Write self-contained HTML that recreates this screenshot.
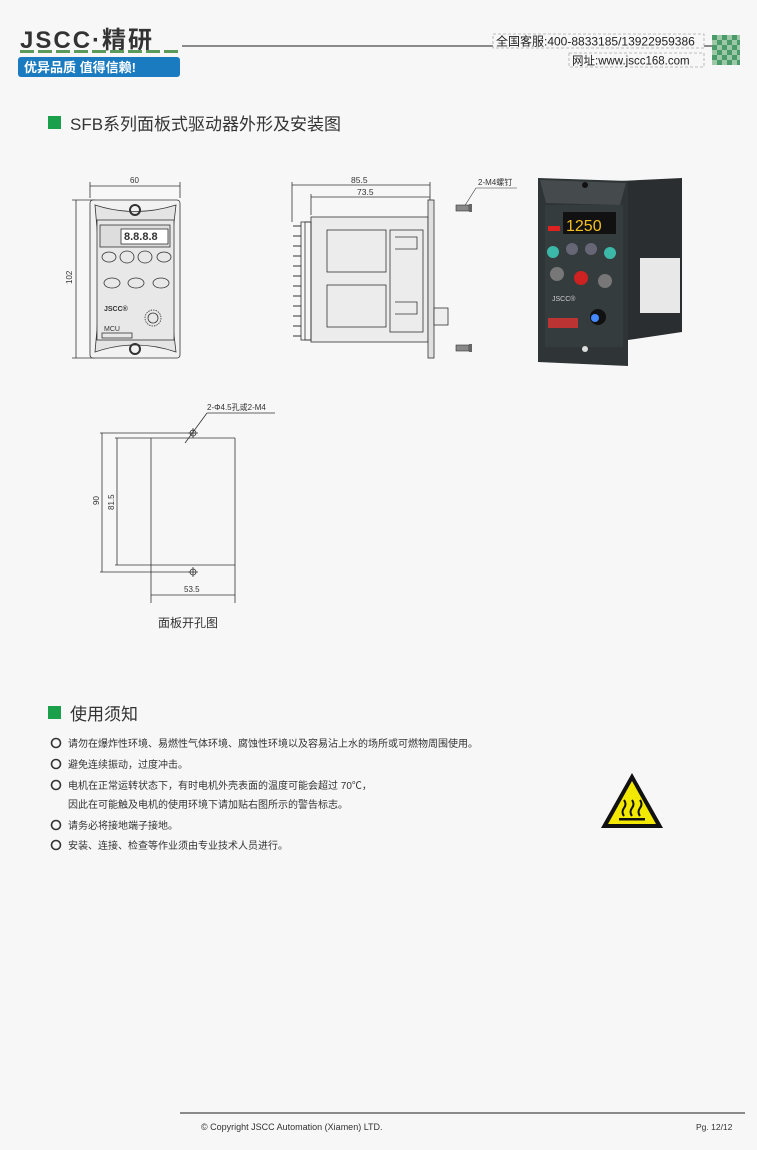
<!DOCTYPE html>
<html><head><meta charset="utf-8"><style>
body{margin:0;background:#f7f7f7;}
svg{display:block}
text{font-family:"Liberation Sans","Noto Sans CJK SC",sans-serif;}
</style></head><body>
<svg width="757" height="1150" viewBox="0 0 757 1150" xmlns="http://www.w3.org/2000/svg">
<rect width="757" height="1150" fill="#f7f7f7"/>
<!-- header -->
<text x="20" y="48" font-size="24" font-weight="bold" fill="#333" letter-spacing="2">JSCC·精研</text>
<line x1="20" y1="51.5" x2="178" y2="51.5" stroke="#5a9a5a" stroke-width="3" stroke-dasharray="14,4"/>
<rect x="18" y="57" width="162" height="20" rx="3" fill="#1a7bc0"/>
<text x="24" y="72" font-size="13" font-weight="bold" fill="#fff">优异品质 值得信赖!</text>
<line x1="182" y1="46" x2="712" y2="46" stroke="#666" stroke-width="1.5"/>
<rect x="493" y="34" width="211" height="14" fill="#f7f7f7" stroke="#aaa" stroke-dasharray="3,2" stroke-width="0.8"/>
<text x="496" y="45.5" font-size="12" fill="#222">全国客服:400-8833185/13922959386</text>
<rect x="569" y="53" width="135" height="14" fill="#f7f7f7" stroke="#aaa" stroke-dasharray="3,2" stroke-width="0.8"/>
<text x="572" y="64.5" font-size="11.5" fill="#222" font-family="Liberation Mono,monospace">网址:www.jscc168.com</text>
<g fill="#4a9a6a">
<rect x="712" y="35" width="28" height="30" fill="#9cc8a8"/>
<rect x="712" y="35" width="5" height="5"/><rect x="722" y="35" width="5" height="5"/><rect x="732" y="35" width="5" height="5"/>
<rect x="717" y="40" width="5" height="5"/><rect x="727" y="40" width="5" height="5"/><rect x="737" y="40" width="3" height="5"/>
<rect x="712" y="45" width="5" height="5"/><rect x="722" y="45" width="5" height="5"/><rect x="732" y="45" width="5" height="5"/>
<rect x="717" y="50" width="5" height="5"/><rect x="727" y="50" width="5" height="5"/><rect x="737" y="50" width="3" height="5"/>
<rect x="712" y="55" width="5" height="5"/><rect x="722" y="55" width="5" height="5"/><rect x="732" y="55" width="5" height="5"/>
<rect x="717" y="60" width="5" height="5"/><rect x="727" y="60" width="5" height="5"/><rect x="737" y="60" width="3" height="5"/>
</g>
<!-- section 1 -->
<rect x="48" y="116" width="13" height="13" fill="#1aa04a"/>
<text x="70" y="130" font-size="17" fill="#333">SFB系列面板式驱动器外形及安装图</text>
<!-- front view -->
<g stroke="#333" fill="none" stroke-width="0.8">
<line x1="90" y1="186" x2="180" y2="186"/><line x1="90" y1="182" x2="90" y2="198"/><line x1="180" y1="182" x2="180" y2="198"/>
<line x1="76" y1="200" x2="76" y2="358"/><line x1="72" y1="200" x2="95" y2="200"/><line x1="72" y1="358" x2="95" y2="358"/>
<rect x="90" y="200" width="90" height="158" rx="3" fill="#f2f2f2"/>
<path d="M95 205 Q135 218 176 205 L172 240 L98 240 Z" fill="#e4e4e4"/>
<path d="M95 352 Q135 338 176 352 L172 318 L98 318 Z" fill="#e4e4e4"/>
<rect x="97" y="220" width="77" height="120" fill="#e8e8e8"/>
<rect x="100" y="225" width="70" height="22" fill="#ddd"/>
<rect x="121" y="229" width="47" height="15" fill="#fff"/>
<circle cx="135" cy="210" r="5" stroke-width="2"/>
<circle cx="135" cy="349" r="5" stroke-width="2"/>
<ellipse cx="109" cy="257" rx="7" ry="5"/><ellipse cx="127" cy="257" rx="7" ry="6"/><ellipse cx="145" cy="257" rx="7" ry="6"/><ellipse cx="164" cy="257" rx="7" ry="5"/>
<ellipse cx="112" cy="283" rx="8" ry="5"/><ellipse cx="136" cy="283" rx="8" ry="5"/><ellipse cx="161" cy="283" rx="8" ry="5"/>
<circle cx="153" cy="318" r="8" stroke-dasharray="1.5,1"/><circle cx="153" cy="318" r="5"/>
<rect x="102" y="333" width="30" height="5"/>
</g>
<text x="124" y="240" font-size="11" font-weight="bold" fill="#333">8.8.8.8</text>
<text x="130" y="183" font-size="8" fill="#333">60</text>
<text x="72" y="284" font-size="8" fill="#333" transform="rotate(-90 72 284)">102</text>
<text x="104" y="311" font-size="7" font-weight="bold" fill="#333" font-family="Liberation Serif,serif">JSCC®</text>
<text x="104" y="331" font-size="7" fill="#333">MCU</text>
<!-- side view -->
<g stroke="#333" fill="none" stroke-width="0.8">
<line x1="292" y1="185" x2="430" y2="185"/><line x1="292" y1="182" x2="292" y2="222"/><line x1="430" y1="182" x2="430" y2="200"/>
<line x1="311" y1="197" x2="430" y2="197"/><line x1="311" y1="194" x2="311" y2="215"/>
<rect x="311" y="217" width="117" height="125" fill="#ececec"/>
<rect x="428" y="200" width="6" height="158" fill="#e0e0e0"/>
<rect x="434" y="308" width="14" height="17" fill="#eee"/>
<rect x="301" y="222" width="10" height="118"/><rect x="305" y="222" width="6" height="118"/>
<rect x="327" y="230" width="59" height="42"/><rect x="327" y="285" width="59" height="42"/>
<rect x="390" y="230" width="33" height="102"/>
<path d="M395 237 h22 v12 h-22"/><path d="M395 302 h22 v12 h-22"/>
</g>
<g stroke="#333" stroke-width="1">
<line x1="293" y1="226" x2="301" y2="226"/><line x1="293" y1="236" x2="301" y2="236"/><line x1="293" y1="246" x2="301" y2="246"/><line x1="293" y1="256" x2="301" y2="256"/><line x1="293" y1="266" x2="301" y2="266"/><line x1="293" y1="276" x2="301" y2="276"/><line x1="293" y1="286" x2="301" y2="286"/><line x1="293" y1="296" x2="301" y2="296"/><line x1="293" y1="306" x2="301" y2="306"/><line x1="293" y1="316" x2="301" y2="316"/><line x1="293" y1="326" x2="301" y2="326"/><line x1="293" y1="336" x2="301" y2="336"/>
</g>
<text x="351" y="183" font-size="8.5" fill="#333">85.5</text>
<text x="357" y="195" font-size="8.5" fill="#333">73.5</text>
<!-- screws -->
<text x="478" y="185" font-size="8" fill="#333">2-M4螺钉</text>
<line x1="476" y1="188" x2="517" y2="188" stroke="#333" stroke-width="0.6"/>
<line x1="476" y1="188" x2="464" y2="207" stroke="#333" stroke-width="0.6"/>
<rect x="456" y="205" width="13" height="6" fill="#888" stroke="#333" stroke-width="0.6"/><rect x="469" y="204" width="3" height="8" fill="#666"/>
<rect x="456" y="345" width="13" height="6" fill="#888" stroke="#333" stroke-width="0.6"/><rect x="469" y="344" width="3" height="8" fill="#666"/>
<!-- photo -->
<path d="M578 183 L682 178 L682 332 L628 340 Z" fill="#2a2e30"/>
<rect x="640" y="258" width="40" height="55" fill="#e8e8e8"/>
<path d="M538 178 L628 181 L628 366 L538 362 Z" fill="#2f3537"/>
<path d="M540 180 L626 183 L620 205 L546 203 Z" fill="#454a4c"/>
<rect x="545" y="205" width="78" height="142" fill="#353c3e"/>
<rect x="563" y="212" width="53" height="22" fill="#111"/>
<text x="566" y="231" font-size="16" fill="#f5c020" font-family="Liberation Mono,monospace">1250</text>
<rect x="548" y="226" width="12" height="5" fill="#d22"/>
<circle cx="553" cy="252" r="6" fill="#3cb8a8"/><circle cx="572" cy="249" r="6" fill="#667"/><circle cx="591" cy="249" r="6" fill="#667"/><circle cx="610" cy="253" r="6" fill="#3cb8a8"/>
<circle cx="557" cy="274" r="7" fill="#777"/><circle cx="581" cy="278" r="7" fill="#c22"/><circle cx="605" cy="281" r="7" fill="#777"/>
<circle cx="598" cy="317" r="8" fill="#111"/><circle cx="595" cy="318" r="4" fill="#48f"/>
<rect x="548" y="318" width="30" height="10" fill="#b33"/>
<text x="552" y="301" font-size="7" fill="#ccc">JSCC®</text>
<circle cx="585" cy="349" r="3" fill="#ddd"/>
<circle cx="585" cy="185" r="3" fill="#111"/>
<!-- cutout -->
<g stroke="#333" fill="none" stroke-width="0.8">
<line x1="100" y1="433" x2="195" y2="433"/><line x1="115" y1="438" x2="235" y2="438"/>
<line x1="115" y1="565" x2="235" y2="565"/><line x1="100" y1="572" x2="190" y2="572"/>
<line x1="102" y1="433" x2="102" y2="572"/><line x1="117" y1="438" x2="117" y2="565"/>
<line x1="151" y1="438" x2="151" y2="603"/><line x1="235" y1="438" x2="235" y2="603"/>
<line x1="151" y1="595" x2="235" y2="595"/>
<circle cx="193" cy="433" r="3"/><line x1="188" y1="433" x2="198" y2="433"/><line x1="193" y1="428" x2="193" y2="438"/>
<circle cx="193" cy="572" r="3"/><line x1="188" y1="572" x2="198" y2="572"/><line x1="193" y1="567" x2="193" y2="577"/>
<line x1="185" y1="443" x2="207" y2="413"/><line x1="207" y1="413" x2="275" y2="413"/>
</g>
<text x="207" y="410" font-size="8" fill="#333">2-Φ4.5孔或2-M4</text>
<text x="99" y="505" font-size="8" fill="#333" transform="rotate(-90 99 505)">90</text>
<text x="114" y="510" font-size="8" fill="#333" transform="rotate(-90 114 510)">81.5</text>
<text x="184" y="592" font-size="8" fill="#333">53.5</text>
<text x="158" y="627" font-size="12" fill="#333">面板开孔图</text>
<!-- section 2 -->
<rect x="48" y="706" width="13" height="13" fill="#1aa04a"/>
<text x="70" y="720" font-size="17" fill="#333">使用须知</text>
<g fill="none" stroke="#333" stroke-width="1.6">
<circle cx="56" cy="743" r="4.5"/><circle cx="56" cy="764" r="4.5"/><circle cx="56" cy="785" r="4.5"/><circle cx="56" cy="825" r="4.5"/><circle cx="56" cy="845" r="4.5"/>
</g>
<g font-size="10" fill="#333">
<text x="68" y="747">请勿在爆炸性环境、易燃性气体环境、腐蚀性环境以及容易沾上水的场所或可燃物周围使用。</text>
<text x="68" y="768">避免连续振动，过度冲击。</text>
<text x="68" y="789">电机在正常运转状态下，有时电机外壳表面的温度可能会超过 70℃，</text>
<text x="68" y="808">因此在可能触及电机的使用环境下请加贴右图所示的警告标志。</text>
<text x="68" y="829">请务必将接地端子接地。</text>
<text x="68" y="849">安装、连接、检查等作业须由专业技术人员进行。</text>
</g>
<path d="M632 773 L663 828 L601 828 Z" fill="#111"/>
<path d="M632 781 L656 824 L608 824 Z" fill="#f2e800"/>
<g stroke="#111" stroke-width="2" fill="none"><path d="M624 800 q3 4 0 8 q-3 4 0 8"/><path d="M632 800 q3 4 0 8 q-3 4 0 8"/><path d="M640 800 q3 4 0 8 q-3 4 0 8"/></g>
<rect x="619" y="818" width="26" height="2.5" fill="#111"/>
<!-- footer -->
<line x1="180" y1="1113" x2="745" y2="1113" stroke="#666" stroke-width="1.5"/>
<text x="201" y="1130" font-size="9" fill="#333">© Copyright JSCC Automation (Xiamen) LTD.</text>
<text x="696" y="1130" font-size="8.5" fill="#333">Pg. 12/12</text>
</svg>
</body></html>
